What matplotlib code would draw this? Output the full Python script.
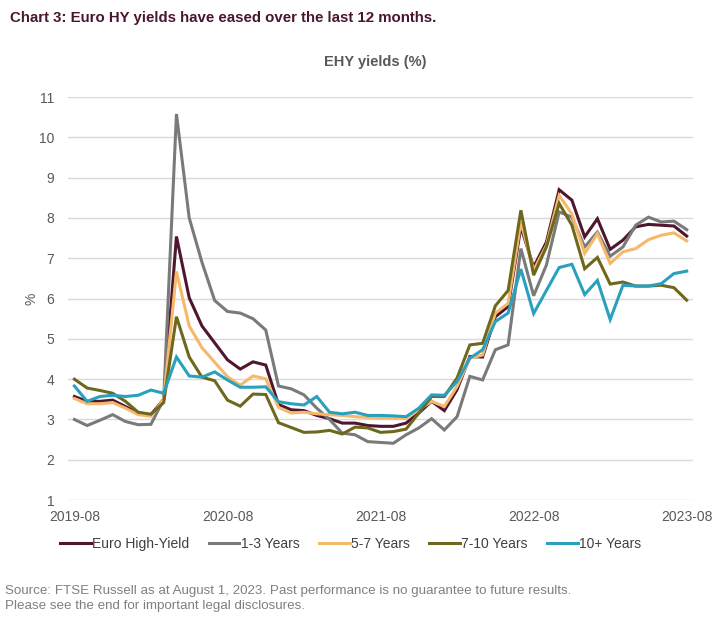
import matplotlib.pyplot as plt
import numpy as np

plt.rcParams['font.family'] = ['Liberation Sans', 'DejaVu Sans']

# Monthly yields, 2019-08 .. 2023-08
months = [f"{2019 + (7 + i) // 12}-{(7 + i) % 12 + 1:02d}" for i in range(49)]

euro_hy = [3.57, 3.45, 3.45, 3.48, 3.32, 3.15, 3.12, 3.50, 7.54, 6.02,
           5.32, 4.90, 4.48, 4.25, 4.43, 4.35, 3.37, 3.24, 3.22, 3.10,
           3.02, 2.91, 2.91, 2.85, 2.83, 2.83, 2.91, 3.16, 3.45, 3.22,
           3.74, 4.56, 4.55, 5.55, 5.80, 7.78, 6.78, 7.40, 8.70, 8.44,
           7.53, 7.98, 7.22, 7.45, 7.78, 7.84, 7.82, 7.80, 7.55]
y1_3 = [3.00, 2.85, 2.98, 3.12, 2.95, 2.87, 2.88, 3.50, 10.58, 8.00,
        6.90, 5.95, 5.68, 5.64, 5.50, 5.22, 3.83, 3.76, 3.61, 3.28,
        3.00, 2.66, 2.62, 2.45, 2.43, 2.41, 2.62, 2.79, 3.02, 2.74,
        3.07, 4.07, 3.98, 4.73, 4.85, 7.24, 6.07, 6.83, 8.15, 8.02,
        7.28, 7.65, 7.05, 7.28, 7.82, 8.02, 7.90, 7.92, 7.71]
y5_7 = [3.52, 3.39, 3.39, 3.42, 3.28, 3.12, 3.08, 3.50, 6.67, 5.32,
        4.78, 4.42, 4.06, 3.85, 4.08, 4.01, 3.30, 3.16, 3.18, 3.14,
        3.12, 3.10, 3.07, 3.05, 3.03, 3.03, 3.03, 3.24, 3.45, 3.32,
        3.82, 4.52, 4.60, 5.64, 5.88, 7.90, 6.70, 7.32, 8.56, 8.10,
        7.12, 7.61, 6.87, 7.16, 7.24, 7.46, 7.57, 7.63, 7.43]
y7_10 = [4.00, 3.78, 3.72, 3.65, 3.45, 3.18, 3.13, 3.42, 5.55, 4.55,
         4.05, 3.96, 3.48, 3.33, 3.63, 3.62, 2.92, 2.80, 2.68, 2.69,
         2.73, 2.64, 2.81, 2.79, 2.68, 2.70, 2.76, 3.16, 3.57, 3.57,
         4.03, 4.85, 4.89, 5.82, 6.20, 8.19, 6.58, 7.28, 8.36, 7.82,
         6.74, 7.02, 6.36, 6.41, 6.31, 6.31, 6.33, 6.27, 5.96]
y10p = [3.83, 3.45, 3.57, 3.60, 3.57, 3.60, 3.73, 3.65, 4.55, 4.08,
        4.05, 4.18, 3.98, 3.80, 3.80, 3.81, 3.44, 3.39, 3.36, 3.57,
        3.18, 3.14, 3.18, 3.10, 3.10, 3.09, 3.07, 3.28, 3.61, 3.60,
        3.94, 4.52, 4.73, 5.43, 5.64, 6.73, 5.63, 6.20, 6.77, 6.85,
        6.10, 6.45, 5.48, 6.33, 6.31, 6.31, 6.37, 6.62, 6.68]

series = [
    ('Euro High-Yield', euro_hy, '#4f1630'),
    ('1-3 Years', y1_3, '#7a7a7a'),
    ('5-7 Years', y5_7, '#f6b96b'),
    ('7-10 Years', y7_10, '#6e681f'),
    ('10+ Years', y10p, '#2aa0bf'),
]

fig = plt.figure(figsize=(7.16, 6.22), dpi=100)
ax = fig.add_axes([0.095, 0.196, 0.873, 0.648])

x = np.arange(len(months))
for name, vals, col in series:
    ax.plot(x, vals, color=col, lw=2.2, label=name, solid_joinstyle='miter')

ax.set_xlim(-0.5, len(months) - 0.5)
ax.set_ylim(1, 11)
ax.set_yticks(range(1, 12))
tick_idx = [0, 12, 24, 36, 48]
ax.set_xticks(tick_idx)
ax.set_xticklabels([months[i] for i in tick_idx])
ax.grid(axis='y', color='#d9d9d9', lw=1)
ax.set_axisbelow(True)
for s in ['top', 'right', 'left', 'bottom']:
    ax.spines[s].set_visible(False)
ax.tick_params(length=0, labelsize=10, colors='#595959')
ax.tick_params(axis='y', pad=10)
ax.tick_params(axis='x', pad=7)
ax.set_ylabel('%', fontsize=10, color='#595959', labelpad=0)

fig.text(0.014, 0.971, 'Chart 3: Euro HY yields have eased over the last 12 months.',
         fontsize=10.8, fontweight='bold', color='#4a1530', va='center')
fig.text(0.524, 0.900, 'EHY yields (%)', fontsize=10.5, fontweight='bold',
         color='#595959', ha='center', va='center')

fig.legend(loc='center', bbox_to_anchor=(0.49, 0.125), ncol=5, frameon=False,
           fontsize=10, handlelength=2.2, handletextpad=0.1, columnspacing=1.4,
           labelcolor='#404040')

fig.text(0.007, 0.038, 'Source: FTSE Russell as at August 1, 2023. Past performance is no guarantee to future results.\n'
         'Please see the end for important legal disclosures.',
         fontsize=9.6, color='#7f7f7f', va='center', linespacing=1.4)

fig.savefig('out.png', dpi=100)
